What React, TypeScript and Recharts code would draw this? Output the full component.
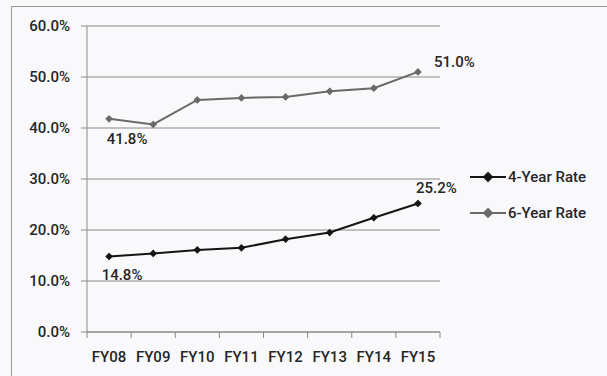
import React from "react";
import { LineChart, Line, XAxis, YAxis, CartesianGrid, LabelList } from "recharts";

const years = ["FY08", "FY09", "FY10", "FY11", "FY12", "FY13", "FY14", "FY15"];
const fourYear = [14.8, 15.4, 16.1, 16.5, 18.2, 19.5, 22.4, 25.2];
const sixYear = [41.8, 40.7, 45.5, 45.9, 46.1, 47.2, 47.8, 51.0];
const yTicks = [0, 10, 20, 30, 40, 50, 60];
// whole numbers are the boundaries between years, halves are the year centres
const xTicks = [0, 0.5, 1, 1.5, 2, 2.5, 3, 3.5, 4, 4.5, 5, 5.5, 6, 6.5, 7, 7.5, 8];

const data = years.map((fy, i) => ({ fy, pos: i + 0.5, four: fourYear[i], six: sixYear[i] }));

const FONT = "Roboto, 'Noto Sans', sans-serif";
const FS = 15;
const TEXT = "#262626";
const GRID = "#8a8a8a";
const FOUR_COLOR = "#151515";
const SIX_COLOR = "#6a6a6a";
const tickStyle = { fill: TEXT, fontFamily: FONT, fontSize: FS, fontWeight: 500 };

const Diamond = ({ cx, cy, color, r = 5.5 }: any) => {
  if (cx == null || cy == null) return null;
  return (
    <polygon
      points={`${cx},${cy - r} ${cx + r},${cy} ${cx},${cy + r} ${cx - r},${cy}`}
      fill={color}
      stroke={color}
      strokeWidth={1.2}
    />
  );
};

const YearTick = ({ x, y, payload }: any) => {
  const v = payload.value as number;
  if (Number.isInteger(v)) {
    return <line x1={x} y1={y} x2={x} y2={y + 6} stroke={GRID} strokeWidth={1} />;
  }
  return (
    <text x={x} y={y + 25} textAnchor="middle" dominantBaseline="central" {...tickStyle}>
      {years[Math.floor(v)]}
    </text>
  );
};

// only the first and last points get a value label
const endLabel = (first: [number, number], last: [number, number]) => (props: any) => {
  const { x, y, value, index } = props;
  if (index !== 0 && index !== years.length - 1) return null;
  const [dx, dy] = index === 0 ? first : last;
  return (
    <text x={x + dx} y={y + dy} textAnchor={index === 0 ? "middle" : "start"} dominantBaseline="central"
      fontFamily={FONT} fontSize={FS} fontWeight={500} fill={TEXT}>
      {`${value.toFixed(1)}%`}
    </text>
  );
};

const series = [
  { name: "4-Year Rate", color: FOUR_COLOR },
  { name: "6-Year Rate", color: SIX_COLOR },
];

const LegendBox = () => (
  <div style={{ position: "absolute", left: 470, top: 159, fontFamily: FONT, fontSize: FS, fontWeight: 500, color: TEXT }}>
    {series.map((s) => (
      <div key={s.name} style={{ display: "flex", alignItems: "center", height: 36 }}>
        <svg width={38} height={12}>
          <line x1={0} y1={6} x2={36} y2={6} stroke={s.color} strokeWidth={1.8} />
          <Diamond cx={18} cy={6} r={4.5} color={s.color} />
        </svg>
        <span>{s.name}</span>
      </div>
    ))}
  </div>
);

export default function App() {
  return (
    <div style={{ position: "absolute", left: 0, top: 0, width: 607, height: 376, background: "#f9f9fc" }}>
      <div style={{ position: "absolute", left: 11, top: 6, right: 0, bottom: 0, borderLeft: "1.5px solid #9a9a9a", borderTop: "1.5px solid #9a9a9a" }} />
      <LineChart width={607} height={376} data={data} margin={{ top: 26, right: 167, left: 0, bottom: 0 }}
        style={{ position: "absolute", left: 0, top: 0 }}>
        <CartesianGrid vertical={false} stroke={GRID} strokeWidth={1} />
        <XAxis dataKey="pos" type="number" domain={[0, 8]} ticks={xTicks} interval={0} height={44}
          stroke={GRID} tickLine={false} tickSize={0} tickMargin={0} tick={<YearTick />} />
        <YAxis domain={[0, 60]} ticks={yTicks} width={87} tickSize={6} tickMargin={11} stroke={GRID}
          interval={0} tickFormatter={(v: number) => `${v.toFixed(1)}%`} tick={tickStyle} />
        <Line dataKey="four" name="4-Year Rate" stroke={FOUR_COLOR} strokeWidth={2}
          isAnimationActive={false} dot={<Diamond color={FOUR_COLOR} />} activeDot={false}>
          <LabelList dataKey="four" content={endLabel([13, 18], [-2, -15])} />
        </Line>
        <Line dataKey="six" name="6-Year Rate" stroke={SIX_COLOR} strokeWidth={2}
          isAnimationActive={false} dot={<Diamond color={SIX_COLOR} />} activeDot={false}>
          <LabelList dataKey="six" content={endLabel([18, 20], [16, -10])} />
        </Line>
      </LineChart>
      <LegendBox />
    </div>
  );
}
